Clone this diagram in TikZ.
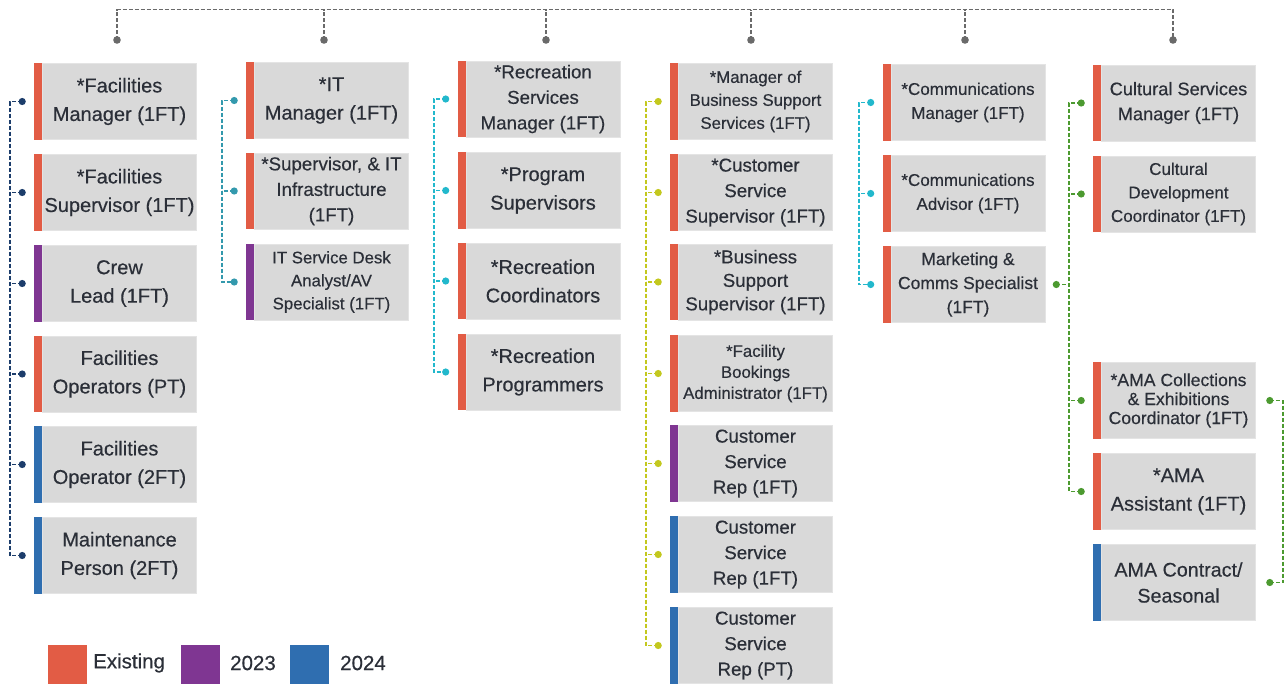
\documentclass[tikz,border=0pt]{standalone}
\usepackage{fontspec}
\setmainfont{Liberation Sans}[FakeBold=0.4]
\definecolor{cEx}{HTML}{E25C45}
\definecolor{c23}{HTML}{7F3692}
\definecolor{c24}{HTML}{2F6EB0}
\definecolor{boxgray}{HTML}{D9D9D9}
\definecolor{boxedge}{HTML}{E4E4E4}
\definecolor{txt}{HTML}{2B2F38}
\definecolor{topgray}{HTML}{6A6A6A}
\definecolor{navy}{HTML}{1C3D6B}
\definecolor{teal}{HTML}{3399AD}
\definecolor{cyanc}{HTML}{22B8CC}
\definecolor{lime}{HTML}{C3C81E}
\definecolor{greenc}{HTML}{4C9A30}
\begin{document}
\begin{tikzpicture}[x=1pt,y=-1pt,
  box/.style={rectangle, fill=boxgray, draw=boxedge, line width=0.6pt,
    minimum width=154pt, minimum height=76pt, inner sep=0pt, align=center, text=txt},
  fb/.style={font=\fontsize{20}{28.5}\selectfont},
  fm/.style={font=\fontsize{18.7}{25.5}\selectfont},
  fs/.style={font=\fontsize{16.8}{23}\selectfont},
  conn/.style={dash pattern=on 4pt off 2pt, line width=1.6pt},
  topline/.style={conn, draw=topgray},
  legtxt/.style={anchor=west, text=txt, inner sep=0pt, font=\fontsize{20.5}{24}\selectfont}
]
\useasboundingbox (0,0) rectangle (1285,683);

% ---- column 1
\node[box,fb] (a1) at (119.5,101.5) {*Facilities\\Manager (1FT)};
\node[box,fb] (a2) at (119.5,192.5) {*Facilities\\Supervisor (1FT)};
\node[box,fb] (a3) at (119.5,283.5) {Crew\\Lead (1FT)};
\node[box,fb] (a4) at (119.5,374) {Facilities\\Operators (PT)};
\node[box,fb] (a5) at (119.5,464.5) {Facilities\\Operator (2FT)};
\node[box,fb] (a6) at (119.5,555.5) {Maintenance\\Person (2FT)};
% ---- column 2
\node[box,fb] (b1) at (331.5,100.5) {*IT\\Manager (1FT)};
\node[box,fm] (b2) at (331.5,191) {*Supervisor, \& IT\\Infrastructure\\(1FT)};
\node[box,fs] (b3) at (331.5,282) {IT Service Desk\\Analyst/AV\\Specialist (1FT)};
% ---- column 3
\node[box,fm] (c1) at (543,99) {*Recreation\\Services\\Manager (1FT)};
\node[box,fb] (c2) at (543,190.5) {*Program\\Supervisors};
\node[box,fb] (c3) at (543,281) {*Recreation\\Coordinators};
\node[box,fb] (c4) at (543,372) {*Recreation\\Programmers};
% ---- column 4
\node[box,fs] (d1) at (755.5,101.5) {*Manager of\\Business Support\\Services (1FT)};
\node[box,fm] (d2) at (755.5,192.5) {*Customer\\Service\\Supervisor (1FT)};
\node[box,fm,font=\fontsize{18.7}{23.5}\selectfont] (d3) at (755.5,282) {*Business\\Support\\Supervisor (1FT)};
\node[box,fs,font=\fontsize{16.8}{21}\selectfont] (d4) at (755.5,373.5) {*Facility\\Bookings\\Administrator (1FT)};
\node[box,fm] (d5) at (755.5,463.5) {Customer\\Service\\Rep (1FT)};
\node[box,fm] (d6) at (755.5,554.5) {Customer\\Service\\Rep (1FT)};
\node[box,fm] (d7) at (755.5,645.5) {Customer\\Service\\Rep (PT)};
% ---- column 5
\node[box,fs,font=\fontsize{17}{24}\selectfont] (e1) at (968,102.5) {*Communications\\Manager (1FT)};
\node[box,fs,font=\fontsize{17}{24}\selectfont] (e2) at (968,193.5) {*Communications\\Advisor (1FT)};
\node[box,fs,font=\fontsize{17.5}{24}\selectfont] (e3) at (968,284.5) {Marketing \&\\Comms Specialist\\(1FT)};
% ---- column 6
\node[box,fs,font=\fontsize{18.2}{25}\selectfont] (f1) at (1178.5,103) {Cultural Services\\Manager (1FT)};
\node[box,fs,font=\fontsize{17}{23.5}\selectfont] (f2) at (1178.5,194) {Cultural\\Development\\Coordinator (1FT)};
\node[box,fs,font=\fontsize{17.6}{19}\selectfont] (f3) at (1178.5,400.5) {*AMA Collections\\\& Exhibitions\\Coordinator (1FT)};
\node[box,fb] (f4) at (1178.5,491.5) {*AMA\\Assistant (1FT)};
\node[box,fb,font=\fontsize{19.7}{26}\selectfont] (f5) at (1178.5,582.5) {AMA Contract/\\Seasonal};

% ---- coloured bars
\foreach \n/\c in {a1/cEx,a2/cEx,a3/c23,a4/cEx,a5/c24,a6/c24,
  b1/cEx,b2/cEx,b3/c23, c1/cEx,c2/cEx,c3/cEx,c4/cEx,
  d1/cEx,d2/cEx,d3/cEx,d4/cEx,d5/c23,d6/c24,d7/c24,
  e1/cEx,e2/cEx,e3/cEx, f1/cEx,f2/cEx,f3/cEx,f4/cEx,f5/c24}
  \fill[\c] ([xshift=-8pt]\n.south west) rectangle (\n.north west);

% ---- top connector
\coordinate (t1) at (117,40);
\coordinate (t2) at (324,40);
\coordinate (t3) at (546,40);
\coordinate (t4) at (751,40);
\coordinate (t5) at (965,40);
\coordinate (t6) at (1173,40);
\coordinate (h1) at (117,9.5);
\coordinate (h6) at (1173,9.5);
\draw[topline] (t1) -- (h1) -- (h6) -- (t6);
\foreach \t in {t2,t3,t4,t5} \draw[topline] (\t) -- (\t |- h1);
\foreach \t in {t1,t2,t3,t4,t5,t6} \fill[topgray] (\t) circle (3.8pt);

% ---- column connectors
\foreach \col/\first/\last/\mids/\all in {
  navy/a1/a6/{a2,a3,a4,a5}/{a1,a2,a3,a4,a5,a6},
  teal/b1/b3/{b2}/{b1,b2,b3},
  cyanc/c1/c4/{c2,c3}/{c1,c2,c3,c4},
  lime/d1/d7/{d2,d3,d4,d5,d6}/{d1,d2,d3,d4,d5,d6,d7},
  cyanc/e1/e3/{e2}/{e1,e2,e3},
  greenc/f1/f4/{f2,f3}/{f1,f2,f3,f4}} {
  \draw[conn, draw=\col] ([xshift=-20pt]\first.west) -- ([xshift=-32pt]\first.west)
     -- ([xshift=-32pt]\last.west) -- ([xshift=-20pt]\last.west);
  \foreach \n in \mids \draw[conn, draw=\col] ([xshift=-20pt]\n.west) -- ([xshift=-32pt]\n.west);
  \foreach \n in \all \fill[\col] ([xshift=-20pt]\n.west) circle (3.6pt);
}
% Marketing to cultural line
\draw[conn, draw=greenc] ([xshift=11pt]e3.east) -- ([xshift=-32pt]f1.west |- e3.east);
\fill[greenc] ([xshift=11pt]e3.east) circle (3.6pt);
% AMA right connector
\draw[conn, draw=greenc] ([xshift=14pt]f3.east) -- ([xshift=27pt]f3.east)
   -- ([xshift=27pt]f5.east) -- ([xshift=14pt]f5.east);
\fill[greenc] ([xshift=14pt]f3.east) circle (3.6pt);
\fill[greenc] ([xshift=14pt]f5.east) circle (3.6pt);

% ---- legend
\node[fill=cEx, minimum width=39pt, minimum height=39pt, inner sep=0pt] (l1) at (67.5,664.5) {};
\node[legtxt] (l1t) at (93,663) {Existing};
\node[fill=c23, minimum width=39pt, minimum height=39pt, inner sep=0pt] (l2) at (200.5,664.5) {};
\node[legtxt] (l2t) at (230,663) {2023};
\node[fill=c24, minimum width=39pt, minimum height=39pt, inner sep=0pt] (l3) at (309.5,664.5) {};
\node[legtxt] (l3t) at (340,663) {2024};
\end{tikzpicture}
\end{document}
